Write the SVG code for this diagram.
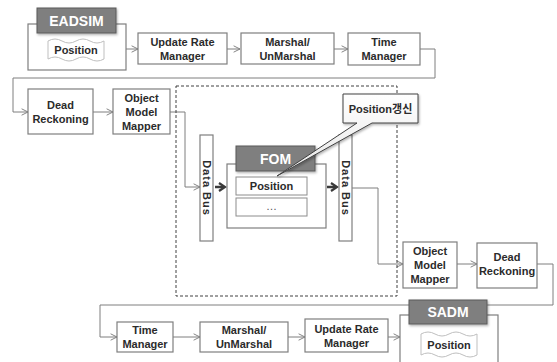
<svg xmlns="http://www.w3.org/2000/svg" width="557" height="362" viewBox="0 0 557 362">
  <defs>
    <style>
      .box { fill: #ffffff; stroke: #7f7f7f; stroke-width: 1.2; }
      .frame { fill: #ffffff; stroke: #7f7f7f; stroke-width: 1.2; }
      .head { fill: #7f7f7f; stroke: #5a5a5a; stroke-width: 1; }
      .row { fill: #ffffff; stroke: #8c8c8c; stroke-width: 1; }
      .banner { fill: #ffffff; stroke: #bfbfbf; stroke-width: 1; }
      .lbl { font-family: "Liberation Sans", "Noto Sans CJK KR", sans-serif; font-size: 11px; font-weight: bold; fill: #2b2b2b; text-anchor: middle; }
      .hlbl { font-family: "Liberation Sans", sans-serif; font-size: 14px; font-weight: bold; fill: #ffffff; text-anchor: middle; }
      .bus { font-family: "Liberation Sans", sans-serif; font-size: 11px; font-weight: bold; fill: #2b2b2b; text-anchor: middle; letter-spacing: 1px; }
      .conn { fill: none; stroke: #7f7f7f; stroke-width: 1; }
      .thick { fill: none; stroke: #3a3a3a; stroke-width: 2.5; }
      .dash { fill: none; stroke: #404040; stroke-width: 1; stroke-dasharray: 3 2; }
    </style>
    <marker id="open" viewBox="0 0 10 10" refX="9" refY="5" markerWidth="8" markerHeight="8" orient="auto" markerUnits="userSpaceOnUse">
      <path d="M1,1 L9,5 L1,9" fill="none" stroke="#7f7f7f" stroke-width="1.2"/>
    </marker>
    <marker id="solid" viewBox="0 0 10 10" refX="6" refY="5" markerWidth="4" markerHeight="4" orient="auto">
      <path d="M1,1 L7,5 L1,9" fill="none" stroke="#3a3a3a" stroke-width="2.2"/>
    </marker>
    <linearGradient id="callFill" x1="0" y1="0" x2="0" y2="1">
      <stop offset="0" stop-color="#ffffff"/>
      <stop offset="1" stop-color="#e6e6e6"/>
    </linearGradient>
    <filter id="shadow" x="-10%" y="-10%" width="130%" height="140%">
      <feDropShadow dx="1" dy="1.5" stdDeviation="1" flood-color="#000000" flood-opacity="0.3"/>
    </filter>
  </defs>

  <!-- connectors -->
  <g id="connectors">
    <path class="conn" d="M126,49 H138" marker-end="url(#open)"/>
    <path class="conn" d="M227,49 H240" marker-end="url(#open)"/>
    <path class="conn" d="M334,49 H348" marker-end="url(#open)"/>
    <path class="conn" d="M420,49 H435 V78 H13 V112 H28" marker-end="url(#open)"/>
    <path class="conn" d="M93,112 H113" marker-end="url(#open)"/>
    <path class="conn" d="M170,112 H185 V187 H200" marker-end="url(#open)"/>
    <path class="thick" d="M215,187 H224" marker-end="url(#solid)"/>
    <path class="thick" d="M327,187 H336" marker-end="url(#solid)"/>
    <path class="conn" d="M352,188 H378 V264 H403" marker-end="url(#open)"/>
    <path class="conn" d="M457,264 H477" marker-end="url(#open)"/>
    <path class="conn" d="M537,264 H553 V305 H100 V337 H117" marker-end="url(#open)"/>
    <path class="conn" d="M173,337 H200" marker-end="url(#open)"/>
    <path class="conn" d="M288,337 H305" marker-end="url(#open)"/>
    <path class="conn" d="M388,337 H400" marker-end="url(#open)"/>
  </g>

  <!-- RTI boundary -->
  <rect class="dash" x="176" y="86" width="221" height="210"/>

  <!-- sending side -->
  <g id="eadsim">
    <rect class="frame" x="28" y="24" width="98" height="46"/>
    <rect class="head" x="37" y="8" width="79" height="25" filter="url(#shadow)"/>
    <text class="hlbl" x="76.5" y="26">EADSIM</text>
    <path class="banner" d="M48,41 q7,-4 14,0 t14,0 t14,0 t14,0 V59 q-7,4 -14,0 t-14,0 t-14,0 t-14,0 Z"/>
    <text class="lbl" x="76" y="54">Position</text>
  </g>
  <g id="update-rate-1">
    <rect class="box" x="138" y="33" width="89" height="31"/>
    <text class="lbl" x="182.5" y="46">Update Rate</text>
    <text class="lbl" x="182.5" y="60">Manager</text>
  </g>
  <g id="marshal-1">
    <rect class="box" x="241" y="33" width="93" height="31"/>
    <text class="lbl" x="287.5" y="46">Marshal/</text>
    <text class="lbl" x="287.5" y="60">UnMarshal</text>
  </g>
  <g id="time-1">
    <rect class="box" x="348" y="33" width="72" height="32"/>
    <text class="lbl" x="384" y="46">Time</text>
    <text class="lbl" x="384" y="60">Manager</text>
  </g>
  <g id="dead-reckoning-1">
    <rect class="box" x="28" y="89" width="65" height="45"/>
    <text class="lbl" x="60.5" y="109">Dead</text>
    <text class="lbl" x="60.5" y="123">Reckoning</text>
  </g>
  <g id="omm-1">
    <rect class="box" x="113" y="89" width="57" height="45"/>
    <text class="lbl" x="141.5" y="102">Object</text>
    <text class="lbl" x="141.5" y="116">Model</text>
    <text class="lbl" x="141.5" y="130">Mapper</text>
  </g>

  <!-- data buses and FOM -->
  <g id="bus-left">
    <rect class="box" x="200" y="135" width="13" height="106"/>
    <text class="bus" transform="translate(203,188) rotate(90)">Data Bus</text>
  </g>
  <g id="fom">
    <rect class="frame" x="227" y="164" width="99" height="64"/>
    <rect class="head" x="236" y="146" width="79" height="25" filter="url(#shadow)"/>
    <text class="hlbl" x="275.5" y="164">FOM</text>
    <rect class="row" x="236" y="177" width="71" height="18"/>
    <text class="lbl" x="271.5" y="190">Position</text>
    <rect class="row" x="236" y="198" width="71" height="18"/>
    <text class="lbl" x="271.5" y="210" style="font-weight:normal;fill:#555">…</text>
  </g>
  <g id="bus-right">
    <rect class="box" x="339" y="135" width="13" height="106"/>
    <text class="bus" transform="translate(342,188) rotate(90)">Data Bus</text>
  </g>
  <g id="callout">
    <path d="M343,94 H418 V123 H372 L277,176 L357,123 H343 Z" fill="url(#callFill)" stroke="#404040" stroke-width="1" filter="url(#shadow)"/>
    <text class="lbl" x="380.5" y="113">Position갱신</text>
  </g>

  <!-- receiving side -->
  <g id="omm-2">
    <rect class="box" x="403" y="242" width="54" height="46"/>
    <text class="lbl" x="430" y="255">Object</text>
    <text class="lbl" x="430" y="269">Model</text>
    <text class="lbl" x="430" y="283">Mapper</text>
  </g>
  <g id="dead-reckoning-2">
    <rect class="box" x="477" y="243" width="60" height="45"/>
    <text class="lbl" x="507" y="261">Dead</text>
    <text class="lbl" x="507" y="275">Reckoning</text>
  </g>
  <g id="time-2">
    <rect class="box" x="117" y="322" width="56" height="30"/>
    <text class="lbl" x="145" y="334">Time</text>
    <text class="lbl" x="145" y="348">Manager</text>
  </g>
  <g id="marshal-2">
    <rect class="box" x="200" y="322" width="88" height="30"/>
    <text class="lbl" x="244" y="334">Marshal/</text>
    <text class="lbl" x="244" y="348">UnMarshal</text>
  </g>
  <g id="update-rate-2">
    <rect class="box" x="305" y="319" width="83" height="33"/>
    <text class="lbl" x="346.5" y="333">Update Rate</text>
    <text class="lbl" x="346.5" y="347">Manager</text>
  </g>
  <g id="sadm">
    <rect class="frame" x="400" y="315" width="98" height="52"/>
    <rect class="head" x="409" y="300" width="78" height="24" filter="url(#shadow)"/>
    <text class="hlbl" x="448" y="317">SADM</text>
    <path class="banner" d="M421,334 q7,-4 14,0 t14,0 t14,0 t14,0 V355 q-7,4 -14,0 t-14,0 t-14,0 t-14,0 Z"/>
    <text class="lbl" x="449" y="349">Position</text>
  </g>
</svg>
